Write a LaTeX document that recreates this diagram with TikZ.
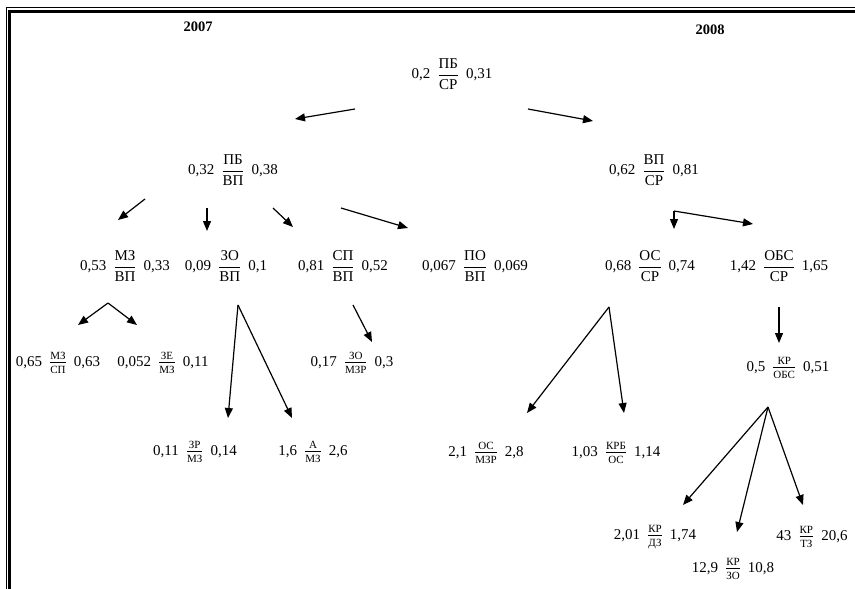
\RequirePackage{fix-cm}
\documentclass[tikz,border=0pt]{standalone}
\usepackage{amsmath}
\usepackage{fontspec}
\setmainfont{Liberation Serif}
\usetikzlibrary{arrows.meta}

% ratio with a large fraction and with a small fraction
\newcommand\bigfr[2]{$\genfrac{}{}{0.9pt}{0}{\mbox{#1}}{\mbox{#2}}$}
\newcommand\smallfr[2]{$\genfrac{}{}{0.8pt}{1}%
  {\mbox{\fontsize{11}{12}\selectfont\rule[-2pt]{0pt}{2pt}#1}}%
  {\mbox{\fontsize{11}{12}\selectfont\rule{0pt}{10pt}#2}}$}
\newcommand\ratio[3]{#1\hspace{7pt}#2\hspace{7pt}#3}

\begin{document}
\begin{tikzpicture}[x=1pt,y=-1pt,
  val/.style={inner sep=0pt, font=\fontsize{15}{18}\selectfont},
  yearlbl/.style={inner sep=0pt, font=\fontsize{14.5}{16}\selectfont\bfseries},
  arr/.style={line width=1.2pt, -{Triangle[length=10pt,width=8pt]}},
  thinrule/.style={line width=1pt},
  thickrule/.style={line width=3pt}]
\useasboundingbox (0,0) rectangle (855,589);
\fill[white] (0,0) rectangle (855,589);

% frame
\draw[thinrule] (6.5,589) -- (6.5,7.5) -- (855,7.5);
\draw[thickrule] (9.5,589) -- (9.5,11.5) -- (855,11.5);

% years
\node[yearlbl] (y07) at (198,27) {2007};
\node[yearlbl] (y08) at (710,30) {2008};

% tree of ratios
\node[val] (n0)  at (452,74)  {\ratio{0,2}{\bigfr{ПБ}{СР}}{0,31}};
\node[val] (n1)  at (233,170) {\ratio{0,32}{\bigfr{ПБ}{ВП}}{0,38}};
\node[val] (n2)  at (654,170) {\ratio{0,62}{\bigfr{ВП}{СР}}{0,81}};

\node[val] (n3)  at (125,266) {\ratio{0,53}{\bigfr{МЗ}{ВП}}{0,33}};
\node[val] (n4)  at (226,266) {\ratio{0,09}{\bigfr{ЗО}{ВП}}{0,1}};
\node[val] (n5)  at (343,266) {\ratio{0,81}{\bigfr{СП}{ВП}}{0,52}};
\node[val] (n6)  at (475,266) {\ratio{0,067}{\bigfr{ПО}{ВП}}{0,069}};
\node[val] (n7)  at (650,266) {\ratio{0,68}{\bigfr{ОС}{СР}}{0,74}};
\node[val] (n8)  at (779,266) {\ratio{1,42}{\bigfr{ОБС}{СР}}{1,65}};

\node[val] (n9)  at (58,363)  {\ratio{0,65}{\smallfr{МЗ}{СП}}{0,63}};
\node[val] (n10) at (163,363) {\ratio{0,052}{\smallfr{ЗЕ}{МЗ}}{0,11}};
\node[val] (n11) at (352,363) {\ratio{0,17}{\smallfr{ЗО}{МЗР}}{0,3}};
\node[val] (n12) at (788,368) {\ratio{0,5}{\smallfr{КР}{ОБС}}{0,51}};

\node[val] (n13) at (195,452) {\ratio{0,11}{\smallfr{ЗР}{МЗ}}{0,14}};
\node[val] (n14) at (313,452) {\ratio{1,6}{\smallfr{А}{МЗ}}{2,6}};
\node[val] (n15) at (486,453) {\ratio{2,1}{\smallfr{ОС}{МЗР}}{2,8}};
\node[val] (n16) at (616,453) {\ratio{1,03}{\smallfr{КРБ}{ОС}}{1,14}};

\node[val] (n17) at (655,537) {\ratio{2,01}{\smallfr{КР}{ДЗ}}{1,74}};
\node[val] (n18) at (812,537) {\ratio{43}{\smallfr{КР}{ТЗ}}{20,6}};
\node[val] (n19) at (733,569) {\ratio{12,9}{\smallfr{КР}{ЗО}}{10,8}};

% arrow end points
\coordinate (r0a) at (355,109); \coordinate (r0b) at (295,119);
\coordinate (r1a) at (528,109); \coordinate (r1b) at (593,121);
\coordinate (p1a) at (145,199); \coordinate (p1b) at (118,220);
\coordinate (p2a) at (207,208); \coordinate (p2b) at (207,231);
\coordinate (p3a) at (273,208); \coordinate (p3b) at (293,227);
\coordinate (p4a) at (341,208); \coordinate (p4b) at (408,228);
\coordinate (q0)  at (674,211); \coordinate (q1) at (674,229); \coordinate (q2) at (753,224);
\coordinate (m0)  at (108,303); \coordinate (m1) at (78,325);   \coordinate (m2) at (137,325);
\coordinate (z0)  at (238,305); \coordinate (z1) at (228,418);  \coordinate (z2) at (292,418);
\coordinate (s0)  at (353,305); \coordinate (s1) at (372,342);
\coordinate (o0)  at (609,307); \coordinate (o1) at (527,413);  \coordinate (o2) at (624,413);
\coordinate (b0)  at (779,307); \coordinate (b1) at (779,343);
\coordinate (k0)  at (768,407); \coordinate (k1) at (683,505);  \coordinate (k2) at (737,532); \coordinate (k3) at (803,505);

% arrows
\draw[arr] (r0a) -- (r0b);
\draw[arr] (r1a) -- (r1b);
\draw[arr] (p1a) -- (p1b);
\draw[arr] (p2a) -- (p2b);
\draw[arr] (p3a) -- (p3b);
\draw[arr] (p4a) -- (p4b);
\draw[arr] (q0) -- (q1);
\draw[arr] (q0) -- (q2);
\draw[arr] (m0) -- (m1);
\draw[arr] (m0) -- (m2);
\draw[arr] (z0) -- (z1);
\draw[arr] (z0) -- (z2);
\draw[arr] (s0) -- (s1);
\draw[arr] (o0) -- (o1);
\draw[arr] (o0) -- (o2);
\draw[arr] (b0) -- (b1);
\draw[arr] (k0) -- (k1);
\draw[arr] (k0) -- (k2);
\draw[arr] (k0) -- (k3);
\end{tikzpicture}
\end{document}
